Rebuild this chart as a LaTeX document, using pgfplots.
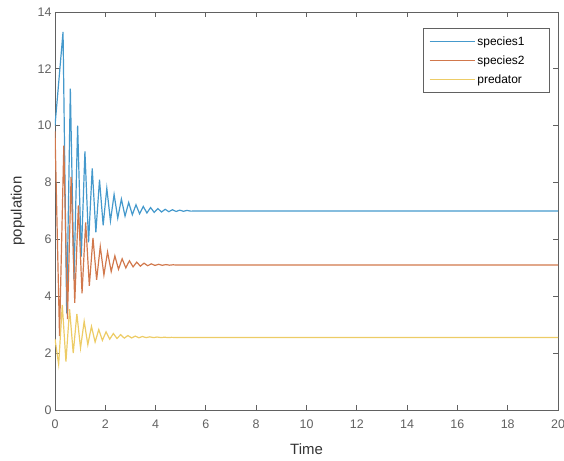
\documentclass[border=0pt]{standalone}
\usepackage{pgfplots}
\pgfplotsset{compat=1.18}
\usepackage{fontspec}
\setmainfont{Liberation Sans}
\usetikzlibrary{calc}
\definecolor{mblue}{rgb}{0.27,0.6,0.8}
\definecolor{morange}{rgb}{0.82,0.47,0.3}
\definecolor{myellow}{rgb}{0.93,0.8,0.4}
\definecolor{axgray}{rgb}{0.38,0.38,0.38}
\begin{document}
\begin{tikzpicture}
\begin{axis}[name=ax,
  scale only axis, width=503bp, height=398bp,
  xmin=0, xmax=20, ymin=0, ymax=14,
  xtick={0,2,...,20}, ytick={0,2,...,14},
  tick align=inside, major tick length=5bp,
  axis line style={axgray, line width=0.9bp},
  every tick/.style={axgray, line width=0.9bp},
  tick label style={font=\fontsize{12.5}{14}\selectfont, text=axgray},
  xticklabel style={yshift=-6bp},
  /pgf/number format/assume math mode=true,
  label style={font=\fontsize{15}{17}\selectfont, text=black!80},
  xlabel={Time}, ylabel={population},
  xlabel style={yshift=-8bp},
  ylabel style={yshift=6bp},
  legend cell align=left,
  legend style={at={(1,1)}, anchor=north east, xshift=-8bp, yshift=-16bp,
    draw=axgray, line width=0.9bp, font=\fontsize{12}{14}\selectfont,
    row sep=5bp, inner xsep=6bp, inner ysep=6bp},
  legend image post style={line width=1bp},
  legend image code/.code={\draw[#1] (0cm,0cm) -- (1.6cm,0cm);},
]
\addplot[mblue, line width=1.2bp] coordinates {
(0,10.0)
(0.32,13.3) (0.465,3.4)
(0.61,11.3) (0.755,4.6)
(0.90,10.0) (1.045,5.4)
(1.19,9.1) (1.335,5.9)
(1.48,8.5) (1.625,6.25)
(1.77,8.1) (1.915,6.5)
(2.06,7.8) (2.205,6.65)
(2.35,7.58) (2.495,6.75)
(2.64,7.42) (2.785,6.82)
(2.93,7.30) (3.075,6.87)
(3.22,7.22) (3.365,6.90)
(3.51,7.16) (3.655,6.93)
(3.80,7.12) (3.945,6.95)
(4.09,7.085) (4.235,6.965)
(4.38,7.06) (4.525,6.975)
(4.67,7.045) (4.815,6.983)
(4.96,7.03) (5.105,6.99)
(5.25,7.02) (5.395,6.995)
(5.6,7.0) (20,7.0)
};
\addlegendentry{species1\hspace*{17bp}}
\addplot[morange, line width=1.2bp] coordinates {
(0,9.8) (0.18,2.6)
(0.35,9.3) (0.495,3.2)
(0.64,8.2) (0.785,3.77)
(0.93,7.2) (1.075,4.1)
(1.22,6.6) (1.365,4.37)
(1.51,6.05) (1.655,4.58)
(1.80,5.75) (1.945,4.75)
(2.09,5.56) (2.235,4.87)
(2.38,5.42) (2.525,4.95)
(2.67,5.32) (2.815,5.0)
(2.96,5.25) (3.105,5.035)
(3.25,5.2) (3.395,5.06)
(3.54,5.165) (3.685,5.075)
(3.83,5.14) (3.975,5.085)
(4.12,5.125) (4.265,5.09)
(4.41,5.115) (4.555,5.094)
(4.70,5.108) (4.845,5.097)
(4.99,5.104) (5.135,5.099)
(5.28,5.102) (5.425,5.1)
(5.7,5.1) (20,5.1)
};
\addlegendentry{species2}
\addplot[myellow, line width=1.2bp] coordinates {
(0,2.5) (0.145,1.6)
(0.29,3.7) (0.435,1.7)
(0.58,3.55) (0.725,2.0)
(0.87,3.38) (1.015,2.18)
(1.16,3.12) (1.305,2.3)
(1.45,2.94) (1.595,2.39)
(1.74,2.83) (1.885,2.45)
(2.03,2.75) (2.175,2.49)
(2.32,2.69) (2.465,2.515)
(2.61,2.65) (2.755,2.527)
(2.90,2.62) (3.045,2.535)
(3.19,2.60) (3.335,2.541)
(3.48,2.585) (3.625,2.545)
(3.77,2.574) (3.915,2.547)
(4.06,2.566) (4.205,2.548)
(4.35,2.56) (4.495,2.549)
(4.64,2.556) (4.785,2.55)
(4.93,2.553) (5.075,2.55)
(5.22,2.551) (5.5,2.55)
(20,2.55)
};
\addlegendentry{predator}
\end{axis}
\pgfresetboundingbox
\path[use as bounding box] ($(ax.south west)+(-55bp,-51bp)$) rectangle ($(ax.north east)+(6bp,12bp)$);
\end{tikzpicture}
\end{document}
